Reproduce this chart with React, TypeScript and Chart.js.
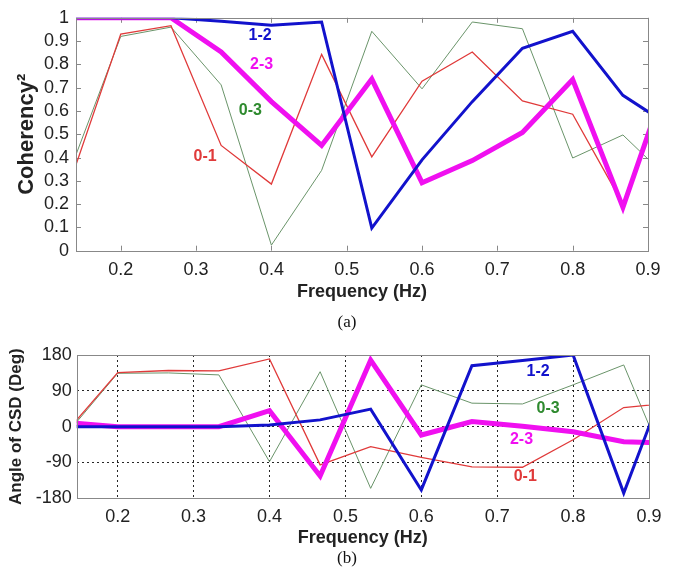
import React, { useEffect, useRef } from "react";
import { Chart, registerables } from "chart.js";

Chart.register(...registerables);

// ---- data ----
const freq = [0.1333, 0.2, 0.2667, 0.3333, 0.4, 0.4667, 0.5333, 0.6, 0.6667, 0.7333, 0.8, 0.8667, 0.9333];
const pairNames = ["0-1", "0-3", "1-2", "2-3"];

const coh01 = [0.30, 0.93, 0.966, 0.452, 0.286, 0.843, 0.403, 0.728, 0.853, 0.643, 0.586, 0.20, 0.80];
const coh03 = [0.35, 0.92, 0.96, 0.712, 0.024, 0.345, 0.942, 0.695, 0.982, 0.953, 0.398, 0.497, 0.29];
const coh12 = [1, 1, 1, 0.985, 0.968, 0.982, 0.097, 0.39, 0.64, 0.869, 0.942, 0.667, 0.527];
const coh23 = [1, 1, 1, 0.853, 0.64, 0.452, 0.737, 0.292, 0.387, 0.508, 0.735, 0.186, 0.81];

const ang01 = [-11, 136, 141, 140, 170, -96, -50, -77, -101, -102, -33, 48, 60];
const ang03 = [-17, 134, 135, 130, -88, 138, -155, 105, 59, 57, 105, 155, -147];
const ang12 = [0, 0, 0, 0, 4, 17, 44, -159, 153, 166, 180, -167, 167];
const ang23 = [10, 0, 0, 0, 40, -124, 167, -21, 13, 1, -13, -38, -42];

const xTicks = [0.2, 0.3, 0.4, 0.5, 0.6, 0.7, 0.8, 0.9];
const cohTicks = [0, 0.1, 0.2, 0.3, 0.4, 0.5, 0.6, 0.7, 0.8, 0.9, 1];
const angTicks = [-180, -90, 0, 90, 180];

// label anchor points (data coordinates)
const cohLabelX = [0.312, 0.372, 0.385, 0.387];
const cohLabelY = [0.405, 0.603, 0.922, 0.797];
const angLabelX = [0.737, 0.767, 0.754, 0.732];
const angLabelY = [-126, 46, 138, -33];

// ---- styles ----
const lineColors = ["#e03a3a", "#6a946a", "#1212cc", "#f010f0"];
const textColors = ["#e03a3a", "#2e8a2e", "#1212cc", "#f010f0"];
const lineWidths = [1.3, 1, 3, 5];
const drawOrder = [2, 3, 0, 1];
const FONT = "'Liberation Sans', Arial, Helvetica, sans-serif";
const TXT = "#222";

const framePlugin = {
  id: "frame",
  beforeDatasetsDraw(chart: any, _args: any, opts: any) {
    const { ctx, chartArea } = chart;
    const { left, top, right, bottom } = chartArea;
    ctx.save();
    ctx.strokeStyle = opts.color || "#777";
    ctx.lineWidth = 1;
    if (opts.ticks) {
      const len = 5;
      ctx.beginPath();
      const xs = chart.scales.x;
      xs.ticks.forEach((t: any) => {
        const px = Math.round(xs.getPixelForValue(t.value)) + 0.5;
        ctx.moveTo(px, bottom);
        ctx.lineTo(px, bottom - len);
        ctx.moveTo(px, top);
        ctx.lineTo(px, top + len);
      });
      const ys = chart.scales.y;
      ys.ticks.forEach((t: any) => {
        const py = Math.round(ys.getPixelForValue(t.value)) + 0.5;
        ctx.moveTo(left, py);
        ctx.lineTo(left + len, py);
        ctx.moveTo(right, py);
        ctx.lineTo(right - len, py);
      });
      ctx.stroke();
    }
    ctx.restore();
  },
  afterDatasetsDraw(chart: any, _args: any, opts: any) {
    const { ctx, chartArea } = chart;
    const { left, top, right, bottom } = chartArea;
    ctx.save();
    ctx.strokeStyle = opts.color || "#777";
    ctx.lineWidth = 1;
    ctx.strokeRect(Math.round(left) + 0.5, Math.round(top) + 0.5, Math.round(right - left), Math.round(bottom - top));
    ctx.restore();
  },
};

const seriesLabelPlugin = {
  id: "seriesLabels",
  afterDatasetsDraw(chart: any, _args: any, opts: any) {
    const { ctx } = chart;
    const xs = chart.scales.x;
    const ys = chart.scales.y;
    ctx.save();
    ctx.font = `bold ${opts.size || 14}px ${FONT}`;
    ctx.textAlign = "center";
    ctx.textBaseline = "middle";
    (opts.items || []).forEach((it: any) => {
      ctx.fillStyle = it.color;
      ctx.fillText(it.text, xs.getPixelForValue(it.x), ys.getPixelForValue(it.y));
    });
    ctx.restore();
  },
};

function makeDatasets(series: number[][]) {
  return series.map((vals, i) => ({
    label: pairNames[i],
    data: freq.map((f, k) => ({ x: f, y: vals[k] })),
    borderColor: lineColors[i],
    backgroundColor: lineColors[i],
    borderWidth: lineWidths[i],
    pointRadius: 0,
    tension: 0,
    fill: false,
    order: drawOrder[i],
    borderJoinStyle: "miter" as const,
  }));
}

function labelItems(xs: number[], ys: number[]) {
  return pairNames.map((n, i) => ({ text: n, x: xs[i], y: ys[i], color: textColors[i] }));
}

const tickFont = { family: FONT, size: 18 };
const xTitleFont = { family: FONT, size: 18, weight: "bold" as const };
const cohTitleFont = { family: FONT, size: 22, weight: "bold" as const };
const angTitleFont = { family: FONT, size: 17, weight: "bold" as const };

export default function App() {
  const topRef = useRef<HTMLCanvasElement>(null);
  const botRef = useRef<HTMLCanvasElement>(null);

  useEffect(() => {
    const top = new Chart(topRef.current!, {
      type: "line",
      data: { datasets: makeDatasets([coh01, coh03, coh12, coh23]) as any },
      plugins: [framePlugin, seriesLabelPlugin],
      options: {
        responsive: false,
        animation: false,
        layout: { padding: { left: 9.8, top: 15, right: 30, bottom: 0 } },
        plugins: {
          legend: { display: false },
          tooltip: { enabled: false },
          frame: { color: "#888", ticks: true },
          seriesLabels: { items: labelItems(cohLabelX, cohLabelY), size: 16 },
        } as any,
        scales: {
          x: {
            type: "linear",
            min: 0.1406,
            max: 0.9,
            afterBuildTicks: (s: any) => {
              s.ticks = xTicks.map((v) => ({ value: v }));
            },
            afterFit: (s: any) => {
              s.height = 56.3;
            },
            ticks: { font: tickFont, color: TXT, padding: 8.6, autoSkip: false, maxRotation: 0, callback: (v: any) => Number(v).toFixed(1) },
            grid: { display: false, drawTicks: false },
            border: { display: false },
            title: { display: true, text: "Frequency (Hz)", font: xTitleFont, color: TXT, padding: { top: 4, bottom: 4 } },
          },
          y: {
            type: "linear",
            min: 0,
            max: 1,
            afterBuildTicks: (s: any) => {
              s.ticks = cohTicks.map((v) => ({ value: v }));
            },
            afterFit: (s: any) => {
              s.width = 66.2;
            },
            ticks: { font: tickFont, color: TXT, padding: 7, autoSkip: false, callback: (v: any) => String(Math.round(Number(v) * 10) / 10) },
            grid: { display: false, drawTicks: false },
            border: { display: false },
            title: { display: true, text: "Coherency²", font: cohTitleFont, color: TXT, padding: { top: 4, bottom: 4 } },
          },
        },
      },
    });

    const bot = new Chart(botRef.current!, {
      type: "line",
      data: { datasets: makeDatasets([ang01, ang03, ang12, ang23]) as any },
      plugins: [framePlugin, seriesLabelPlugin],
      options: {
        responsive: false,
        animation: false,
        layout: { padding: { left: 2.5, top: 25, right: 29, bottom: 0 } },
        plugins: {
          legend: { display: false },
          tooltip: { enabled: false },
          frame: { color: "#888", ticks: false },
          seriesLabels: { items: labelItems(angLabelX, angLabelY), size: 16 },
        } as any,
        scales: {
          x: {
            type: "linear",
            min: 0.146,
            max: 0.9,
            afterBuildTicks: (s: any) => {
              s.ticks = xTicks.map((v) => ({ value: v }));
            },
            afterFit: (s: any) => {
              s.height = 54.7;
            },
            ticks: { font: tickFont, color: TXT, padding: 7.9, autoSkip: false, maxRotation: 0, callback: (v: any) => Number(v).toFixed(1) },
            grid: { display: true, drawTicks: false, color: "rgba(0,0,0,0.85)", lineWidth: 1 },
            border: { display: false, dash: [2, 3] },
            title: { display: true, text: "Frequency (Hz)", font: xTitleFont, color: TXT, padding: { top: 4, bottom: 4 } },
          },
          y: {
            type: "linear",
            min: -180,
            max: 180,
            afterBuildTicks: (s: any) => {
              s.ticks = angTicks.map((v) => ({ value: v }));
            },
            afterFit: (s: any) => {
              s.width = 74.2;
            },
            ticks: { font: tickFont, color: TXT, padding: 5, autoSkip: false, callback: (v: any) => String(v) },
            grid: { display: true, drawTicks: false, color: "rgba(0,0,0,0.85)", lineWidth: 1 },
            border: { display: false, dash: [2, 3] },
            title: { display: true, text: "Angle of CSD (Deg)", font: angTitleFont, color: TXT, padding: { top: 4, bottom: 4 } },
          },
        },
      },
    });

    return () => {
      top.destroy();
      bot.destroy();
    };
  }, []);

  const capStyle: React.CSSProperties = {
    position: "absolute",
    left: 347,
    transform: "translate(-50%, -50%)",
    fontFamily: "'Liberation Serif', 'Times New Roman', serif",
    fontSize: 17,
    color: "#111",
    whiteSpace: "nowrap",
  };

  return (
    <div style={{ position: "fixed", left: 0, top: 0, width: 678, height: 578, background: "#fff" }}>
      <canvas ref={topRef} width={678} height={307} style={{ position: "absolute", left: 0, top: 0 }} />
      <canvas ref={botRef} width={678} height={223} style={{ position: "absolute", left: 0, top: 330 }} />
      <div style={{ ...capStyle, top: 322 }}>(a)</div>
      <div style={{ ...capStyle, top: 558 }}>(b)</div>
    </div>
  );
}
